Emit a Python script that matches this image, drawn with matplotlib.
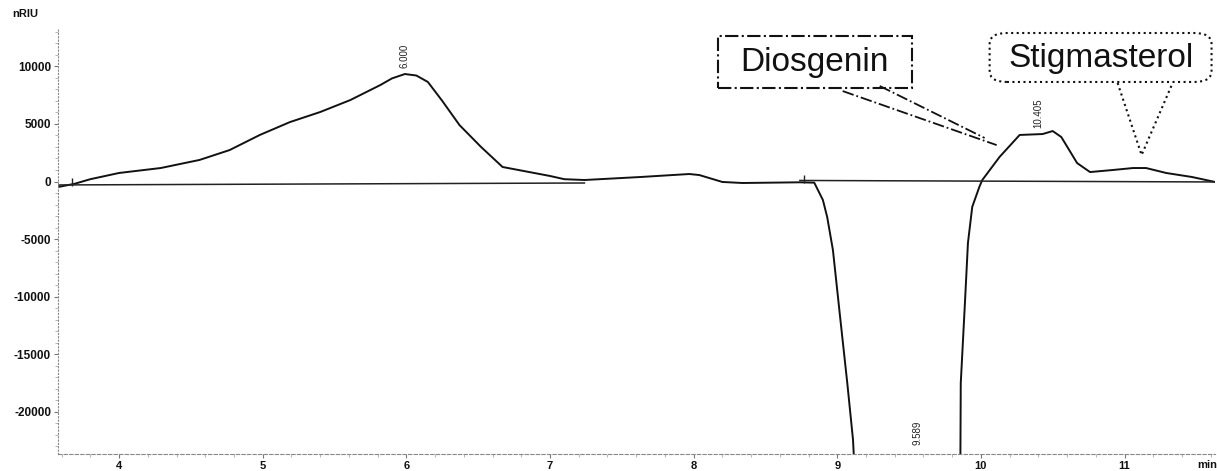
import matplotlib
matplotlib.use("Agg")
import matplotlib.pyplot as plt
from matplotlib.patches import Rectangle, FancyBboxPatch
from matplotlib.ticker import MultipleLocator

# ---- data ----
time_min = [3.575, 3.69, 3.80, 4.0, 4.29, 4.56, 4.77, 4.98, 5.19, 5.40, 5.61, 5.82,
            5.90, 5.99, 6.07, 6.15, 6.25, 6.37, 6.52, 6.67, 7.0, 7.1, 7.24, 7.63, 7.97, 8.04, 8.20, 8.34,
            8.74, 8.84, 8.90, 8.93, 8.97, 9.02, 9.07, 9.11, 9.14, 9.855, 9.86, 9.89,
            9.91, 9.94, 9.99, 10.01, 10.13, 10.27, 10.43, 10.50, 10.56, 10.67, 10.76,
            10.92, 11.06, 11.15, 11.29, 11.47, 11.63]
signal_nriu = [-480, -200, 200, 740, 1170, 1870, 2730, 4040, 5160, 6030, 7070, 8380,
               8950, 9330, 9200, 8640, 7000, 4900, 3000, 1260, 480, 200, 130, 390, 650, 560, -40, -130,
               -70, -100, -1600, -3080, -5950, -11760, -17500, -22440, -30000, -30000, -17500, -10300,
               -5330, -2200, -450, 130, 2130, 4040, 4120, 4380, 3860, 1600, 820,
               1000, 1170, 1170, 740, 390, -40]

baseline1_t = [3.575, 7.24]
baseline1_y = [-300, -130]
baseline2_t = [8.74, 11.63]
baseline2_y = [90, -40]

peak_times = [5.99, 9.56, 10.40]
peak_labels = ["6.000", "9.589", "10.405"]
peak_label_y = [9850, -22870, 4640]

x_ticks = [4, 5, 6, 7, 8, 9, 10, 11]
y_ticks = [-20000, -15000, -10000, -5000, 0, 5000, 10000]

plt.rcParams['font.family'] = ['Liberation Sans', 'DejaVu Sans']
plt.rcParams['axes.unicode_minus'] = False

fig = plt.figure(figsize=(12.17, 4.71), dpi=100)
ax = fig.add_axes([58/1217, 17/471, (1215-58)/1217, (454-28)/471])

ax.plot(time_min, signal_nriu, color='#111111', lw=1.4, solid_joinstyle='round')
ax.plot(baseline1_t, baseline1_y, color='#222222', lw=1.1)
ax.plot(baseline2_t, baseline2_y, color='#222222', lw=1.1)
# integration markers
ax.plot([3.67, 8.77], [0, 250], linestyle='none', marker='|', ms=6, color='#222222', mew=1)

for t, lab, yy in zip(peak_times, peak_labels, peak_label_y):
    ax.text(t, yy, lab, rotation=90, ha='center', va='bottom', fontsize=7, color='#222222')

ax.set_xlim(3.575, 11.63)
ax.set_ylim(-23655, 13325)
ax.set_xticks(x_ticks)
ax.set_yticks(y_ticks)
ax.xaxis.set_minor_locator(MultipleLocator(0.2))
ax.yaxis.set_minor_locator(MultipleLocator(1000))
ax.tick_params(axis='both', which='major', labelsize=8, colors='#777777',
               labelcolor='#111111', length=3, width=0.8, pad=2)
ax.tick_params(axis='y', which='major', labelsize=8.5)
ax.tick_params(axis='both', which='minor', colors='#aaaaaa', length=2, width=0.6)
for lbl in ax.get_xticklabels() + ax.get_yticklabels():
    lbl.set_fontweight('bold')

for s in ['top', 'right']:
    ax.spines[s].set_visible(False)
ax.spines['left'].set_linestyle((0, (1, 2)))
ax.spines['left'].set_color('#888888')
ax.spines['bottom'].set_linestyle((0, (3, 2)))
ax.spines['bottom'].set_color('#888888')
ax.spines['left'].set_linewidth(0.8)
ax.spines['bottom'].set_linewidth(0.8)

fig.text(12/1217, 1 - 14/471, "nRIU", fontsize=8, fontweight='bold', va='center', ha='left', color='#111111')
fig.text(1207/1217, 1 - 465/471, "min", fontsize=8, fontweight='bold', ha='center', va='center',
         color='#111111')

# Diosgenin callout
ax.add_patch(Rectangle((8.168, 8116), 9.518 - 8.168, 12630 - 8116, fill=False,
                       linestyle='-.', lw=1.5, edgecolor='#111111', clip_on=False))
ax.text(8.843, 10370, "Diosgenin", fontsize=24, ha='center', va='center', color='#111111')
ax.plot([9.038, 10.11], [7850, 3160], linestyle='-.', lw=1.3, color='#111111')
ax.plot([9.296, 10.026], [8290, 3780], linestyle='-.', lw=1.3, color='#111111')

# Stigmasterol callout
ax.add_patch(FancyBboxPatch((10.061, 8640), 11.606 - 10.061, 12890 - 8640,
                            boxstyle="round,pad=0,rounding_size=0.12",
                            mutation_aspect=8000, fill=False, linestyle=':', lw=1.5,
                            edgecolor='#111111', clip_on=False))
ax.text(10.84, 10720, "Stigmasterol", fontsize=24, ha='center', va='center', color='#111111')
ax.plot([10.952, 11.119, 11.335], [8550, 2300, 8550], linestyle=':', lw=1.5, color='#111111')

fig.savefig("out.png", dpi=100)
